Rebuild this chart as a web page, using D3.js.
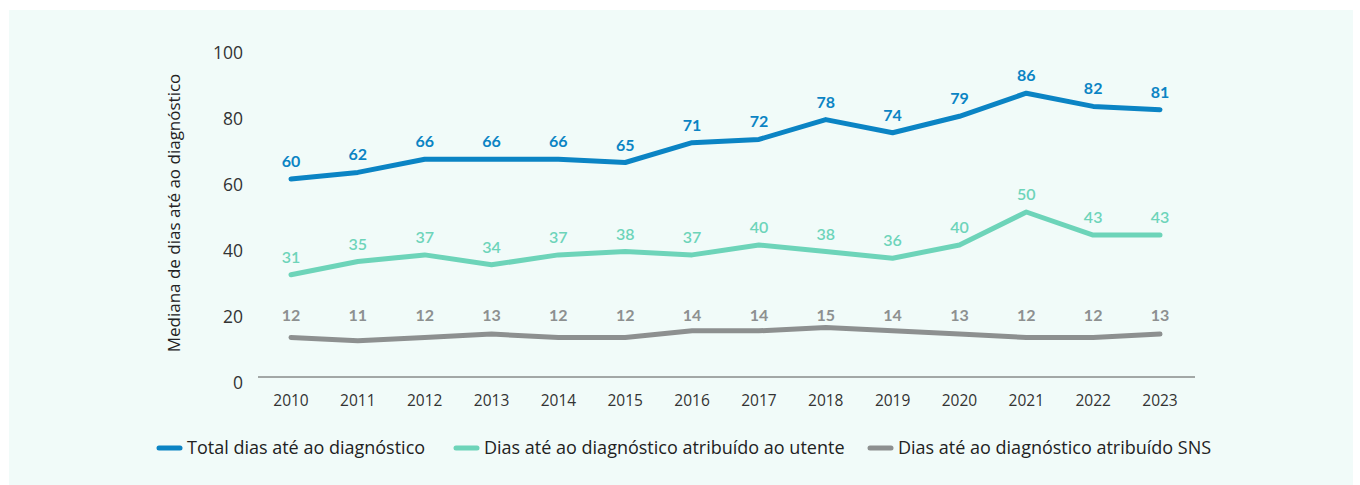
<!DOCTYPE html>
<html>
<head>
<meta charset="utf-8">
<script src="https://cdn.jsdelivr.net/npm/d3@7"></script>
<style>
  body { margin: 0; background: #ffffff; }
  svg text { font-family: "Open Sans", Lato, sans-serif; }
  svg text.lbl { font-family: Lato, "Open Sans", sans-serif; }
</style>
</head>
<body>
<svg id="vis"></svg>
<script>
const WIDTH = 1360;
const HEIGHT = 485;

// data
var years = [2010, 2011, 2012, 2013, 2014, 2015, 2016, 2017, 2018, 2019, 2020, 2021, 2022, 2023];
var totalDias = [60, 62, 66, 66, 66, 65, 71, 72, 78, 74, 79, 86, 82, 81];
var utenteDias = [31, 35, 37, 34, 37, 38, 37, 40, 38, 36, 40, 50, 43, 43];
var snsDias = [12, 11, 12, 13, 12, 12, 14, 14, 15, 14, 13, 12, 12, 13];
var yTicks = [0, 20, 40, 60, 80, 100];
var seriesNames = ["Total dias até ao diagnóstico", "Dias até ao diagnóstico atribuído ao utente", "Dias até ao diagnóstico atribuído SNS"];
var seriesColors = ["#0b84c4", "#6dd4b9", "#8d9090"];

window.onload = function() {
    setupVis();
};

function setupVis() {
    let svg = d3.select("#vis")
        .attr("width", WIDTH)
        .attr("height", HEIGHT);

    // light panel behind the chart
    svg.append("rect")
        .attr("x", 9).attr("y", 10)
        .attr("width", 1344).attr("height", 475)
        .attr("fill", "#f1fbf9");

    let xScale = d3.scalePoint()
        .domain(years)
        .range([291, 1160]);

    let yScale = d3.scaleLinear()
        .domain([0, 100])
        .range([377, 47]);

    // x axis line
    svg.append("line")
        .attr("x1", 258).attr("x2", 1195)
        .attr("y1", yScale(0)).attr("y2", yScale(0))
        .attr("stroke", "#555").attr("stroke-width", 1);

    // year labels
    svg.selectAll("text.year")
        .data(years)
        .enter()
        .append("text")
        .attr("class", "year")
        .text(function(d) { return d; })
        .attr("x", function(d) { return xScale(d); })
        .attr("y", 406)
        .attr("font-size", "15.5px")
        .attr("fill", "#333")
        .style("text-anchor", "middle");

    // y tick labels
    svg.selectAll("text.ytick")
        .data(yTicks)
        .enter()
        .append("text")
        .attr("class", "ytick")
        .text(function(d) { return d; })
        .attr("x", 243)
        .attr("y", function(d) { return yScale(d) + 12; })
        .attr("font-size", "17.5px")
        .attr("fill", "#333")
        .style("text-anchor", "end");

    // y axis title
    svg.append("text")
        .text("Mediana de dias até ao diagnóstico")
        .attr("transform", "translate(180,213) rotate(-90)")
        .attr("font-size", "17px")
        .attr("fill", "#222")
        .style("text-anchor", "middle");

    let allSeries = [totalDias, utenteDias, snsDias];
    let line = d3.line()
        .x(function(d, i) { return xScale(years[i]); })
        .y(function(d) { return yScale(d); });

    allSeries.forEach(function(values, s) {
        svg.append("path")
            .datum(values)
            .attr("d", line)
            .attr("fill", "none")
            .attr("stroke", seriesColors[s])
            .attr("stroke-width", 5)
            .attr("stroke-linecap", "round")
            .attr("stroke-linejoin", "round");
    });

    // value labels; the SNS labels sit on one row above the line
    let snsRow = yScale(d3.max(snsDias)) - 7;
    allSeries.forEach(function(values, s) {
        svg.selectAll("text.val" + s)
            .data(values)
            .enter()
            .append("text")
            .attr("class", "lbl val" + s)
            .text(function(d) { return d; })
            .attr("x", function(d, i) { return xScale(years[i]); })
            .attr("y", function(d) {
                if (s === 2) return snsRow;
                return yScale(d) - 12;
            })
            .attr("font-size", "16px")
            .attr("font-weight", s === 1 ? 600 : 700)
            .attr("fill", seriesColors[s])
            .style("text-anchor", "middle");
    });

    // legend
    let legendX = [159, 456, 870];
    seriesNames.forEach(function(name, s) {
        svg.append("line")
            .attr("x1", legendX[s]).attr("x2", legendX[s] + 21)
            .attr("y1", 448).attr("y2", 448)
            .attr("stroke", seriesColors[s])
            .attr("stroke-width", 5)
            .attr("stroke-linecap", "round");
        svg.append("text")
            .text(name)
            .attr("x", legendX[s] + 28)
            .attr("y", 454)
            .attr("font-size", "18px")
            .attr("fill", "#222");
    });
}
</script>
</body>
</html>
